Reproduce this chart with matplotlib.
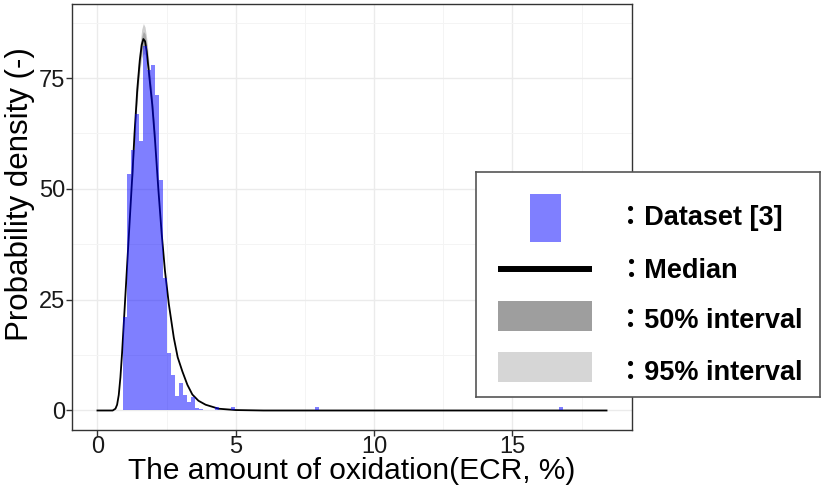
import matplotlib
matplotlib.use("Agg")
import matplotlib.pyplot as plt
import matplotlib.patches as mpatches
import numpy as np

# histogram of the dataset (bin centres in ECR %, density values)
bin_width = 0.145
bin_centers = [0.99, 1.135, 1.28, 1.425, 1.57, 1.715, 1.86, 2.005, 2.15, 2.295,
               2.44, 2.585, 2.73, 2.875, 3.02, 3.165, 3.31, 3.455, 3.60, 3.745,
               4.325, 4.905, 7.95, 16.75]
bin_heights = [21, 53.4, 58.7, 66.9, 60.8, 82.2, 76.7, 78, 71.2, 52,
               30, 13, 8.1, 3.2, 6.2, 3.6, 2.0, 3.0, 0.5, 0.4,
               0.7, 0.7, 0.7, 0.7]

# posterior predictive median curve
med_x = [0.0, 0.55, 0.65, 0.71, 0.77, 0.83, 0.89, 0.95, 1.01, 1.07, 1.13, 1.19,
         1.26, 1.34, 1.44, 1.53, 1.60, 1.66, 1.72, 1.78, 1.88, 1.98, 2.08, 2.20,
         2.32, 2.44, 2.58, 2.76, 2.90, 3.07, 3.25, 3.43, 3.65, 3.91, 4.38, 5.0,
         6.0, 18.4]
med_y = [0.0, 0.0, 0.4, 1.3, 3.5, 7.5, 13, 19.5, 26, 32.5, 39, 45.5,
         53, 62.5, 72.5, 79, 82.5, 83.8, 83.3, 81, 75, 69, 61, 50,
         40, 31.5, 24, 16.4, 12, 8.8, 5.8, 3.6, 2.2, 1.3, 0.4, 0.1,
         0.0, 0.0]

# credible intervals around the peak
band_x = [1.26, 1.34, 1.44, 1.53, 1.60, 1.66, 1.72, 1.78, 1.88, 1.98, 2.08]
lo95 = [51, 60, 70, 76.5, 79.5, 80.5, 80.3, 78.5, 72.5, 67, 59]
hi95 = [55, 65.5, 75.5, 82, 86, 87.3, 86.5, 84, 77.5, 71, 63]
lo50 = [52, 61.5, 71.3, 77.8, 81, 82.3, 82, 79.8, 73.8, 68, 60]
hi50 = [54, 63.8, 74, 80.5, 84.3, 85.5, 85, 82.5, 76.2, 70, 62]

xticks = [0, 5, 10, 15]
yticks = [0, 25, 50, 75]
legend_labels = ["：Dataset [3]", "：Median", "：50% interval", "：95% interval"]

W, H = 823, 488
fig = plt.figure(figsize=(W / 100, H / 100), dpi=100)
ax = fig.add_axes([72 / W, (H - 430) / H, (632 - 72) / W, (430 - 4) / H])

ax.fill_between(band_x, lo95, hi95, color="#cfcfcf", lw=0, zorder=2)
ax.fill_between(band_x, lo50, hi50, color="#a8a8a8", lw=0, zorder=2.1)
ax.plot(med_x, med_y, color="black", lw=1.3, zorder=3)
ax.bar(bin_centers, bin_heights, width=bin_width, color="blue", alpha=0.5,
       lw=0, zorder=4)

ax.set_xlim(-0.92, 19.32)
ax.set_ylim(-4.4, 91.7)
ax.set_xticks(xticks)
ax.set_yticks(yticks)
ax.set_xticks([2.5, 7.5, 12.5, 17.5], minor=True)
ax.set_yticks([12.5, 37.5, 62.5, 87.5], minor=True)
ax.grid(which="major", color="#ebebeb", lw=1.0, zorder=0)
ax.grid(which="minor", color="#f4f4f4", lw=0.7, zorder=0)
ax.set_axisbelow(True)
ax.tick_params(which="major", length=4, width=1, color="#333333",
               labelsize=17, labelcolor="#1a1a1a")
ax.tick_params(axis="x", pad=0)
ax.tick_params(axis="y", pad=1)
ax.tick_params(which="minor", length=0)
for s in ax.spines.values():
    s.set_color("#333333")
    s.set_linewidth(1)
for lab in ax.get_xticklabels() + ax.get_yticklabels():
    lab.set_family("Liberation Sans")

ax.set_xlabel("The amount of oxidation(ECR, %)", family="Liberation Sans",
              fontsize=21.5)
ax.set_ylabel("Probability density (-)", family="Liberation Sans",
              fontsize=22.5)
ax.xaxis.set_label_coords(0.5, -0.063)
ax.yaxis.set_label_coords(-0.066, 0.555)

# hand drawn legend box (pixel units inside the box)
lx0, ly0, lx1, ly1 = 476, 172, 820, 397
lg = fig.add_axes([lx0 / W, (H - ly1) / H, (lx1 - lx0) / W, (ly1 - ly0) / H])
lg.set_xlim(0, lx1 - lx0)
lg.set_ylim(ly1 - ly0, 0)
lg.set_xticks([])
lg.set_yticks([])
for s in lg.spines.values():
    s.set_color("#555555")
    s.set_linewidth(1.2)
lg.add_patch(mpatches.Rectangle((54, 22), 31, 48, color="#7f7fff", lw=0))
lg.plot([22, 116], [97, 97], color="black", lw=4.3, solid_capstyle="butt")
lg.add_patch(mpatches.Rectangle((22, 129), 94, 30, color="#9e9e9e", lw=0))
lg.add_patch(mpatches.Rectangle((22, 180), 94, 30, color="#d6d6d6", lw=0))
for lab, yb in zip(legend_labels, [53, 106, 156, 208]):
    lg.text(141, yb, lab, fontsize=19.5, fontweight="bold", va="baseline",
            family=["Liberation Sans", "Noto Sans CJK JP"])

fig.savefig("out.png", dpi=100)
